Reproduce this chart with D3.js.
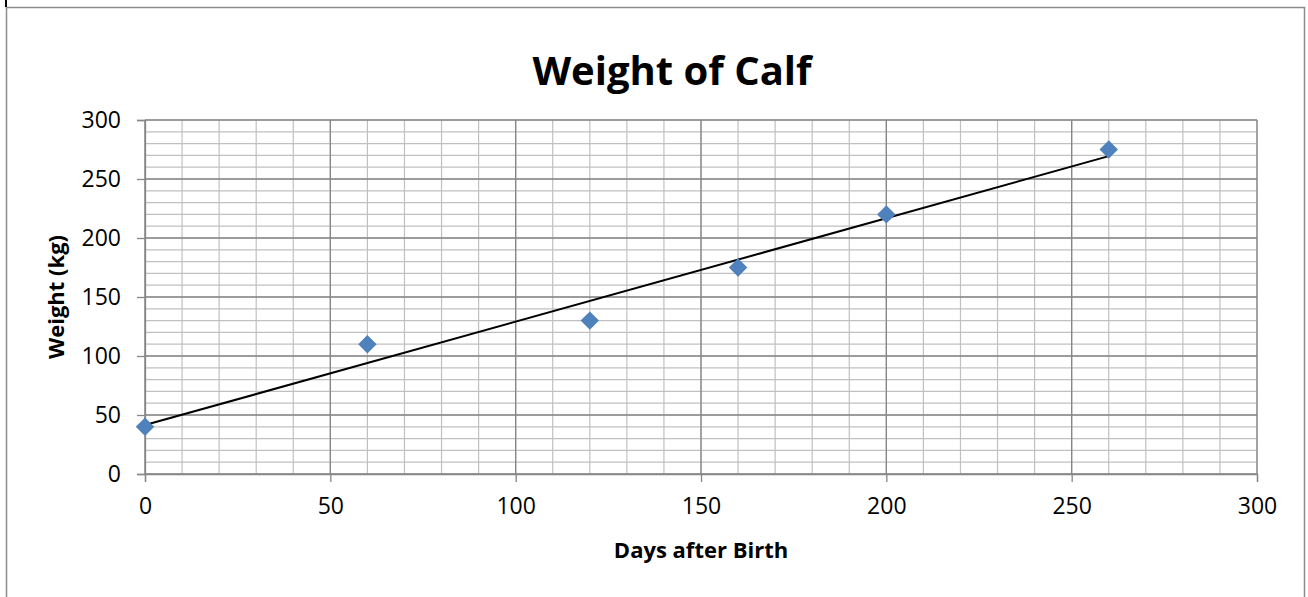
<!DOCTYPE html>
<html>
<head>
<meta charset="utf-8">
<script src="https://cdn.jsdelivr.net/npm/d3@7/dist/d3.min.js"></script>
<style>
  body { margin: 0; background: #fff; }
  svg { display: block; font-family: "Open Sans", sans-serif; }
</style>
</head>
<body>
<svg id="chart"></svg>
<script>
// data
var days = [0, 60, 120, 160, 200, 260];
var weights = [40, 110, 130, 175, 220, 275];
var xTicks = [0, 50, 100, 150, 200, 250, 300];
var yTicks = [0, 50, 100, 150, 200, 250, 300];

var width = 1308, height = 597;
var plotLeft = 145, plotRight = 1257, plotTop = 120, plotBottom = 474;

var majorColor = "#868686";
var minorColor = "#c0c0c0";
var markerColor = "#4f81bd";

var svg = d3.select("#chart").attr("width", width).attr("height", height);

// outer chart border
svg.append("rect")
  .attr("x", 6.5).attr("y", 7.5)
  .attr("width", 1298).attr("height", 600)
  .attr("fill", "none").attr("stroke", "#8c8c8c").attr("stroke-width", 1.5);
svg.append("rect").attr("x", 5).attr("y", 0).attr("width", 2).attr("height", 7).attr("fill", "#000");

var x = d3.scaleLinear().domain([0, 300]).range([plotLeft, plotRight]);
var y = d3.scaleLinear().domain([0, 300]).range([plotBottom, plotTop]);

// minor grid
var minor = d3.range(0, 301, 10);
svg.append("g").selectAll("line").data(minor).enter().append("line")
  .attr("x1", function(d) { return x(d); }).attr("x2", function(d) { return x(d); })
  .attr("y1", plotTop).attr("y2", plotBottom)
  .attr("stroke", minorColor).attr("stroke-width", 1.2);
svg.append("g").selectAll("line").data(minor).enter().append("line")
  .attr("y1", function(d) { return y(d); }).attr("y2", function(d) { return y(d); })
  .attr("x1", plotLeft).attr("x2", plotRight)
  .attr("stroke", minorColor).attr("stroke-width", 1.2);

// major grid
svg.append("g").selectAll("line").data(xTicks).enter().append("line")
  .attr("x1", function(d) { return x(d); }).attr("x2", function(d) { return x(d); })
  .attr("y1", plotTop).attr("y2", plotBottom)
  .attr("stroke", majorColor).attr("stroke-width", 1.3);
svg.append("g").selectAll("line").data(yTicks).enter().append("line")
  .attr("y1", function(d) { return y(d); }).attr("y2", function(d) { return y(d); })
  .attr("x1", plotLeft).attr("x2", plotRight)
  .attr("stroke", majorColor).attr("stroke-width", 1.3);

// axes
var xAxis = svg.append("g")
  .attr("transform", "translate(0," + plotBottom + ")")
  .call(d3.axisBottom(x).tickValues(xTicks).tickSize(8).tickPadding(16));
var yAxis = svg.append("g")
  .attr("transform", "translate(" + plotLeft + ",0)")
  .call(d3.axisLeft(y).tickValues(yTicks).tickSize(8).tickPadding(16));
[xAxis, yAxis].forEach(function(a) {
  a.select(".domain").attr("stroke", majorColor).attr("stroke-width", 1.3);
  a.selectAll(".tick line").attr("stroke", majorColor).attr("stroke-width", 1.3);
  a.selectAll(".tick text").attr("fill", "#000").attr("font-size", 23)
    .style("font-family", "'Open Sans', sans-serif");
});

// linear trendline
var mx = d3.mean(days), my = d3.mean(weights);
var sxy = d3.sum(days, function(d, i) { return (d - mx) * (weights[i] - my); });
var sxx = d3.sum(days, function(d) { return (d - mx) * (d - mx); });
var slope = sxy / sxx, icpt = my - slope * mx;
var x0 = d3.min(days), x1 = d3.max(days);
svg.append("line")
  .attr("x1", x(x0)).attr("y1", y(icpt + slope * x0))
  .attr("x2", x(x1)).attr("y2", y(icpt + slope * x1))
  .attr("stroke", "#000").attr("stroke-width", 2);

// markers
svg.append("g").selectAll("path").data(days).enter().append("path")
  .attr("d", d3.symbol().type(d3.symbolSquare).size(170))
  .attr("transform", function(d, i) { return "translate(" + x(d) + "," + y(weights[i]) + ") rotate(45)"; })
  .attr("fill", markerColor);

// titles
svg.append("text").attr("x", 672).attr("y", 85)
  .attr("text-anchor", "middle").attr("font-size", 40).attr("font-weight", "bold")
  .text("Weight of Calf");
svg.append("text").attr("x", 701).attr("y", 558)
  .attr("text-anchor", "middle").attr("font-size", 22).attr("font-weight", "bold")
  .text("Days after Birth");
svg.append("text")
  .attr("transform", "translate(64,297) rotate(-90)")
  .attr("text-anchor", "middle").attr("font-size", 22).attr("font-weight", "bold")
  .text("Weight (kg)");
</script>
</body>
</html>
